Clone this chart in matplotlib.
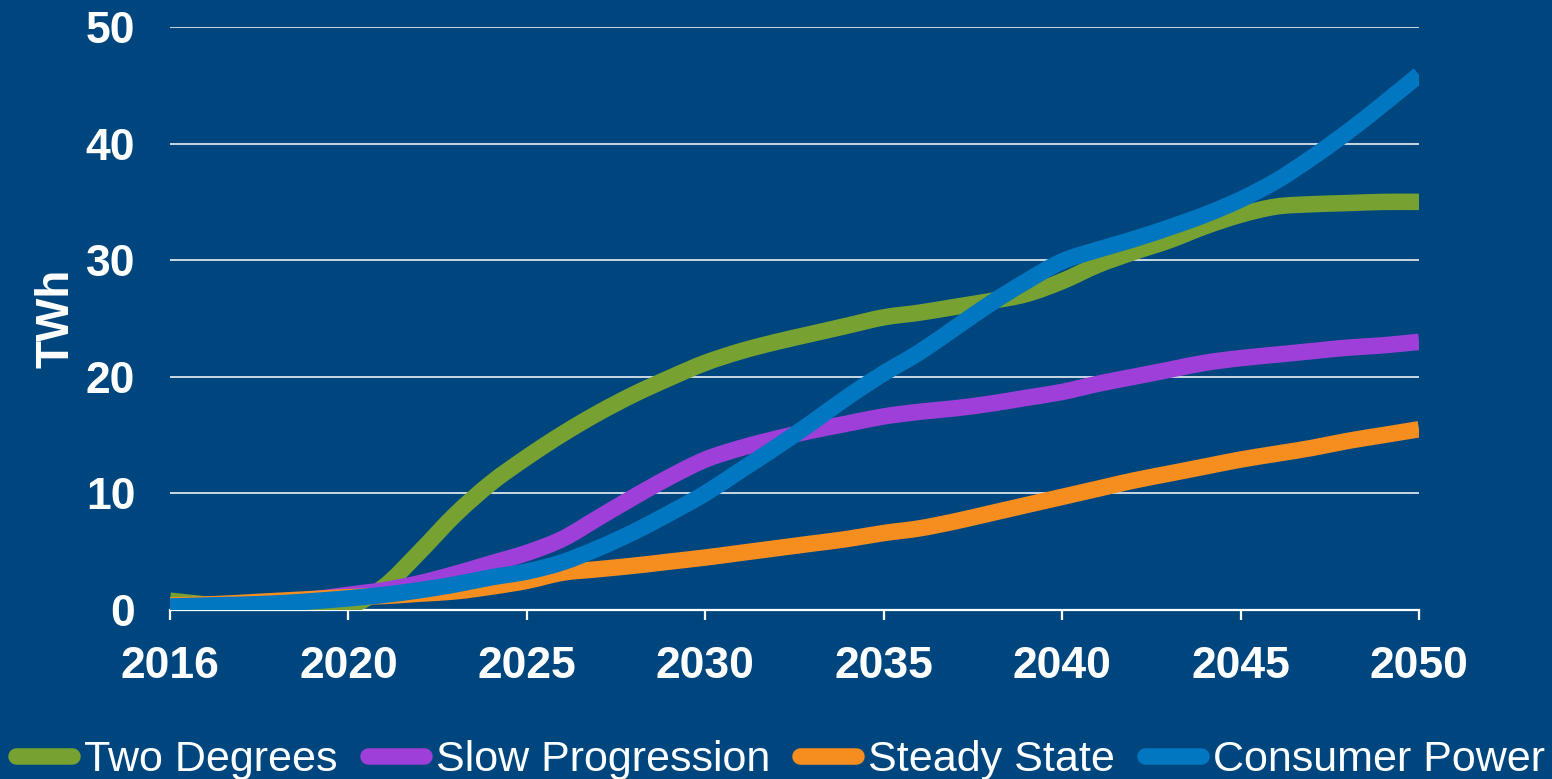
import numpy as np
import matplotlib
matplotlib.use("Agg")
import matplotlib.pyplot as plt
from matplotlib.lines import Line2D
from matplotlib.path import Path
from matplotlib.patches import PathPatch

plt.rcParams['font.family'] = ['Liberation Sans', 'DejaVu Sans']

# ---- data -------------------------------------------------------------
years = list(range(2016, 2051))

two_degrees = [0.8, 0.4, 0.1, 0.0, 0.3, 2.0, 5.0, 8.2, 10.9, 13.1,
               15.1, 16.9, 18.5, 19.9, 21.2, 22.2, 23.0, 23.7, 24.4, 25.1,
               25.5, 26.0, 26.5, 27.1, 28.2, 29.6, 30.7, 31.7, 32.9, 33.9,
               34.6, 34.8, 34.9, 35.0, 35.0]

slow_progression = [0.2, 0.2, 0.4, 0.8, 1.3, 1.7, 2.3, 3.1, 4.0, 4.9,
                    6.1, 7.9, 9.7, 11.4, 12.9, 13.9, 14.7, 15.4, 16.0, 16.6,
                    17.0, 17.3, 17.7, 18.2, 18.7, 19.4, 20.0, 20.6, 21.2, 21.6,
                    21.9, 22.2, 22.5, 22.7, 23.0]

steady_state = [0.4, 0.5, 0.7, 0.9, 1.1, 1.2, 1.4, 1.6, 2.0, 2.5,
                3.2, 3.5, 3.8, 4.15, 4.5, 4.9, 5.3, 5.7, 6.1, 6.6,
                7.0, 7.6, 8.3, 9.0, 9.7, 10.4, 11.1, 11.7, 12.3, 12.9,
                13.4, 13.9, 14.5, 15.0, 15.5]

consumer_power = [0.3, 0.4, 0.5, 0.7, 1.0, 1.3, 1.7, 2.2, 2.8, 3.3,
                  4.1, 5.3, 6.7, 8.3, 10.0, 12.0, 14.0, 16.1, 18.3, 20.3,
                  22.1, 24.2, 26.3, 28.2, 29.9, 30.9, 31.8, 32.8, 33.9, 35.2,
                  36.8, 38.8, 41.0, 43.4, 45.9]

series_names = ["Two Degrees", "Slow Progression", "Steady State", "Consumer Power"]
series_values = [two_degrees, slow_progression, steady_state, consumer_power]
series_colors = ["#77A130", "#9F3FD9", "#F68D1F", "#0077C0"]

tick_years = [2016, 2020, 2025, 2030, 2035, 2040, 2045, 2050]
y_ticks = [0, 10, 20, 30, 40, 50]

# ---- styling ----------------------------------------------------------
bg = "#00467E"
line_px = 16.5
lw = line_px * 72 / 100


def smooth_path(xs, ys):
    """Smoothed line through the points, as cubic Bezier segments."""
    pts = np.column_stack([xs, ys]).astype(float)
    padded = np.vstack([pts[0], pts, pts[-1]])
    verts = [pts[0]]
    codes = [Path.MOVETO]
    for i in range(len(pts) - 1):
        p0, p1, p2, p3 = padded[i], padded[i + 1], padded[i + 2], padded[i + 3]
        c1 = p1 + (p2 - p0) / 6.0
        c2 = p2 - (p3 - p1) / 6.0
        verts += [c1, c2, p2]
        codes += [Path.CURVE4] * 3
    return Path(np.array(verts), codes)


fig = plt.figure(figsize=(15.52, 7.79), dpi=100, facecolor=bg)
ax = fig.add_axes([170 / 1552, 1 - 610 / 779, 1249 / 1552, 583 / 779])
ax.set_facecolor(bg)

# labelled years evenly spaced along the horizontal axis
tick_pos = np.arange(len(tick_years), dtype=float)
ax.set_xscale('function',
              functions=(lambda x: np.interp(x, tick_years, tick_pos),
                         lambda p: np.interp(p, tick_pos, tick_years)))

for vals, color in zip(series_values, series_colors):
    ax.add_patch(PathPatch(smooth_path(years, vals), fill=False,
                           edgecolor=color, lw=lw, capstyle='butt',
                           joinstyle='round', zorder=2))

ax.set_xlim(2016, 2050)
ax.set_ylim(0, 50)

ax.set_xticks(tick_years)
ax.set_xticklabels([str(y) for y in tick_years])
ax.xaxis.set_minor_locator(matplotlib.ticker.NullLocator())
ax.set_yticks(y_ticks)
ax.set_yticklabels([str(v) for v in y_ticks])

ax.grid(axis='y', color='white', lw=1.1)
ax.set_axisbelow(True)

for side in ('left', 'right', 'top'):
    ax.spines[side].set_visible(False)
ax.spines['bottom'].set_color('white')
ax.spines['bottom'].set_linewidth(1.6)
ax.spines['bottom'].set_zorder(0.5)

ax.tick_params(axis='x', colors='white', length=7, width=1.6, direction='out',
               pad=19, labelsize=32)
ax.tick_params(axis='y', colors='white', length=0, pad=25, labelsize=32)
for lab in ax.get_xticklabels() + ax.get_yticklabels():
    lab.set_fontweight('bold')

ax.set_ylabel("TWh", color='white', fontsize=33, fontweight='bold')
ax.yaxis.set_label_coords(-0.0735, 0.5)

handles = [Line2D([0], [0], color=c, lw=lw, solid_capstyle='round')
           for c in series_colors]
leg = fig.legend(handles, series_names, loc='lower center', ncol=4,
                 bbox_to_anchor=(0.503, -0.023), frameon=False, fontsize=31,
                 handlelength=1.3, handletextpad=0.28, columnspacing=0.7,
                 borderaxespad=0.0)
for t in leg.get_texts():
    t.set_color('white')

fig.savefig("out.png", dpi=100, facecolor=bg)
